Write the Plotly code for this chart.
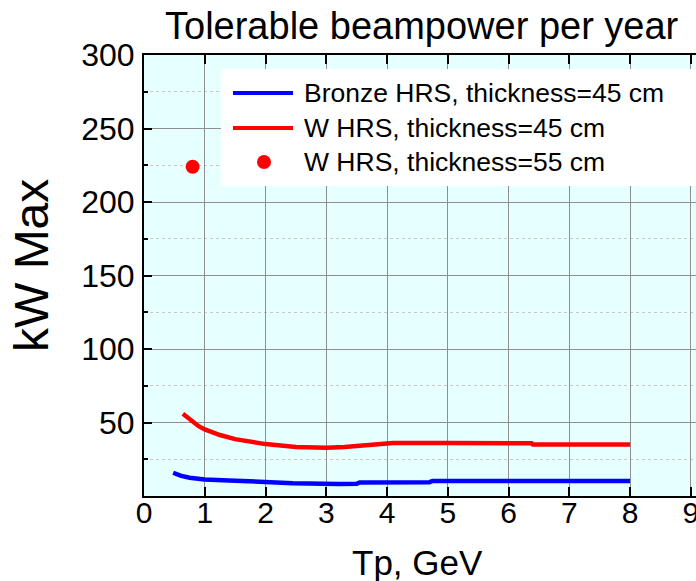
import plotly.graph_objects as go

# ---- data ----
bronze_x = [0.48, 0.6, 0.75, 1.0, 1.4, 1.75, 2.0, 2.45, 3.2, 3.5, 3.55, 4.7, 4.75, 8.0]
bronze_y = [15.8, 13.8, 12.4, 11.3, 10.6, 10.0, 9.4, 8.7, 8.2, 8.3, 9.2, 9.4, 10.2, 10.2]

w45_x = [0.64, 0.75, 0.9, 1.0, 1.25, 1.5, 1.75, 2.0, 2.5, 3.0, 3.3, 3.55, 3.8, 4.1, 5.0, 6.0, 6.38, 6.4, 7.0, 8.0]
w45_y = [56, 52, 47.5, 45.3, 41.5, 38.7, 36.8, 35.3, 33.3, 32.8, 33.4, 34.2, 35.0, 36.0, 36.0, 36.0, 35.8, 35.0, 35.0, 35.0]

w55_x = [0.8]
w55_y = [224]

legend_labels = ["Bronze HRS, thickness=45 cm", "W HRS, thickness=45 cm", "W HRS, thickness=55 cm"]
x_ticks = [0, 1, 2, 3, 4, 5, 6, 7, 8, 9]
y_ticks = [50, 100, 150, 200, 250, 300]

W, H = 696, 581
L, R, T, B = 144, 0, 55, 85
PW, PH = W - L - R, H - T - B

def px(x):
    return (x - L) / PW

def py(y):
    return (H - B - y) / PH

FONT = "Liberation Sans, Arial, sans-serif"

fig = go.Figure()
fig.add_trace(go.Scatter(x=bronze_x, y=bronze_y, mode="lines",
                         line=dict(color="#0000FF", width=4.5), name=legend_labels[0], showlegend=False))
fig.add_trace(go.Scatter(x=w45_x, y=w45_y, mode="lines",
                         line=dict(color="#FF0000", width=4.5), name=legend_labels[1], showlegend=False))
fig.add_trace(go.Scatter(x=w55_x, y=w55_y, mode="markers",
                         marker=dict(color="#FF0000", size=14), name=legend_labels[2], showlegend=False))

# custom legend
shapes = [dict(type="rect", xref="paper", yref="paper", x0=px(221), x1=px(700), y0=py(186), y1=py(69),
               fillcolor="white", line=dict(width=0), layer="above")]
row_y = [93, 128, 162]
shapes.append(dict(type="line", xref="paper", yref="paper", x0=px(233), x1=px(293), y0=py(row_y[0]), y1=py(row_y[0]),
                   line=dict(color="#0000FF", width=4), layer="above"))
shapes.append(dict(type="line", xref="paper", yref="paper", x0=px(233), x1=px(293), y0=py(row_y[1]), y1=py(row_y[1]),
                   line=dict(color="#FF0000", width=4), layer="above"))
shapes.append(dict(type="circle", xref="paper", yref="paper", xsizemode="pixel", ysizemode="pixel",
                   xanchor=px(264), yanchor=py(row_y[2]), x0=-7, x1=7, y0=-7, y1=7,
                   fillcolor="#FF0000", line=dict(width=0), layer="above"))

annotations = []
for lab, ry in zip(legend_labels, row_y):
    annotations.append(dict(text=lab, xref="paper", yref="paper", x=px(302), y=py(ry),
                            xanchor="left", yanchor="middle", showarrow=False,
                            font=dict(family=FONT, size=26.5, color="black")))
annotations.append(dict(text="kW Max", xref="paper", yref="paper", x=px(31), y=py(266),
                        xanchor="center", yanchor="middle", textangle=-90, showarrow=False,
                        font=dict(family=FONT, size=48, color="black")))
annotations.append(dict(text="Tp, GeV", xref="paper", yref="paper", x=px(417), y=py(562),
                        xanchor="center", yanchor="middle", showarrow=False,
                        font=dict(family=FONT, size=35, color="black")))
annotations.append(dict(text="Tolerable beampower per year", xref="paper", yref="paper", x=px(422), y=py(26),
                        xanchor="center", yanchor="middle", showarrow=False,
                        font=dict(family=FONT, size=38, color="black")))

fig.update_layout(
    width=W, height=H,
    margin=dict(l=L, r=R, t=T, b=B, autoexpand=False),
    paper_bgcolor="white", plot_bgcolor="#E6FFFF",
    showlegend=False,
    shapes=shapes, annotations=annotations,
    xaxis=dict(range=[0, 9.085], tickvals=x_ticks, ticktext=[str(v) for v in x_ticks],
               automargin=False, ticklabeloverflow="allow",
               showline=True, linecolor="black", linewidth=2, mirror="ticks",
               ticks="inside", ticklen=9, tickwidth=2, tickcolor="black",
               showgrid=True, gridcolor="#8F8F8F", gridwidth=1, zeroline=False,
               tickfont=dict(family=FONT, size=30, color="black"), ticklabelstandoff=-11),
    yaxis=dict(range=[0, 300], tickvals=y_ticks, ticktext=[str(v) for v in y_ticks],
               automargin=False,
               showline=True, linecolor="black", linewidth=2,
               ticks="inside", ticklen=8, tickwidth=2, tickcolor="black",
               showgrid=True, gridcolor="#8F8F8F", gridwidth=1, zeroline=False,
               minor=dict(tickvals=[25, 75, 125, 175, 225, 275], ticks="inside", ticklen=4, tickwidth=1.5,
                          tickcolor="black", showgrid=True, gridcolor="#C8C8C8", griddash="dot", gridwidth=1),
               tickfont=dict(family=FONT, size=32, color="black"), ticklabelstandoff=1),
)

fig.write_html("out.html", config={"displayModeBar": False},
               post_script="document.body.style.margin='0';document.body.style.padding='0';"
                           "document.body.style.overflow='hidden';")
